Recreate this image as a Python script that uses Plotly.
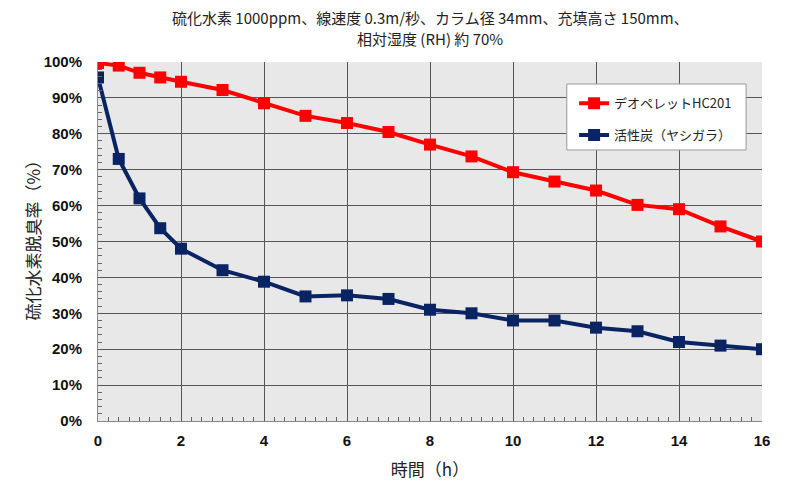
import plotly.graph_objects as go

hours = [0, 0.5, 1, 1.5, 2, 3, 4, 5, 6, 7, 8, 9, 10, 11, 12, 13, 14, 15, 16]
deo_pellet = [99.7, 99, 97, 95.7, 94.5, 92.2, 88.5, 85, 83, 80.5, 77, 73.7, 69.3, 66.7, 64.2, 60.2, 59, 54.2, 50]
activated_carbon = [95.7, 73, 62, 53.7, 48, 42, 38.8, 34.7, 35, 34, 31, 30, 28, 28, 26, 25, 22, 21, 20]

series_names = ["デオペレットHC201", "活性炭（ヤシガラ）"]
title_lines = ["硫化水素 1000ppm、線速度 0.3m/秒、カラム径 34mm、充填高さ 150mm、", "相対湿度 (RH) 約 70%"]
y_title = "硫化水素脱臭率（%）"
x_title = "時間（h）"

fig = go.Figure()
fig.add_trace(go.Scatter(x=hours, y=deo_pellet, name=series_names[0], mode="lines+markers",
                         legendgroup="a",
                         line=dict(color="#ff0000", width=4),
                         marker=dict(symbol="square", size=12, color="#ff0000")))
fig.add_trace(go.Scatter(x=hours, y=activated_carbon, name=series_names[1], mode="lines+markers",
                         legendgroup="b",
                         line=dict(color="#0a2463", width=4),
                         marker=dict(symbol="square", size=12, color="#0a2463")))

# Legend frame
fig.add_shape(type="rect", xref="paper", yref="paper", x0=0.706, x1=0.976, y0=0.755, y1=0.9387,
              fillcolor="white", line=dict(color="#999", width=1), layer="above")

fig.add_annotation(text=title_lines[0], xref="paper", yref="paper", x=0.5, y=1.125,
                   xanchor="center", yanchor="middle", showarrow=False,
                   font=dict(size=15, color="#222"))
fig.add_annotation(text=title_lines[1], xref="paper", yref="paper", x=0.5, y=1.066,
                   xanchor="center", yanchor="middle", showarrow=False,
                   font=dict(size=15, color="#222"))
fig.add_annotation(text=y_title, xref="paper", yref="paper", x=-0.099, y=0.515,
                   xanchor="center", yanchor="middle", showarrow=False, textangle=-90,
                   font=dict(size=17, color="#222"))

fig.update_layout(
    width=792, height=480,
    margin=dict(l=90, r=38, t=54, b=67),
    paper_bgcolor="white", plot_bgcolor="#e8e8e8",
    font=dict(family="Noto Sans CJK JP, Liberation Sans, Arial", color="#222"),
    legend=dict(x=0.717, y=0.927, xanchor="left", yanchor="top",
                bgcolor="rgba(0,0,0,0)", borderwidth=0,
                font=dict(size=13, color="#222"), tracegroupgap=12,
                itemwidth=30),
    showlegend=True,
)
fig.update_xaxes(range=[0, 16], dtick=2, showgrid=True, gridcolor="#555", gridwidth=1,
                 zeroline=False, showline=True, linecolor="#888", linewidth=1, automargin=False,
                 ticks="", ticklabelstandoff=6,
                 tickfont=dict(family="Liberation Sans, Arial", size=15, color="#111", weight="bold"),
                 minor=dict(ticks="inside", dtick=0.25, ticklen=4, tickcolor="#666", showgrid=False),
                 title=dict(text=x_title, font=dict(size=17, color="#222"), standoff=16))
fig.update_yaxes(range=[0, 100], dtick=10, ticksuffix="%", showgrid=True, gridcolor="#555", gridwidth=1,
                 zeroline=False, showline=True, linecolor="#888", linewidth=1, automargin=False,
                 ticks="", ticklabelstandoff=12,
                 tickfont=dict(family="Liberation Sans, Arial", size=15, color="#111", weight="bold"),
                 minor=dict(ticks="inside", dtick=2, ticklen=4, tickcolor="#666", showgrid=False))

fig.write_html("out.html")
